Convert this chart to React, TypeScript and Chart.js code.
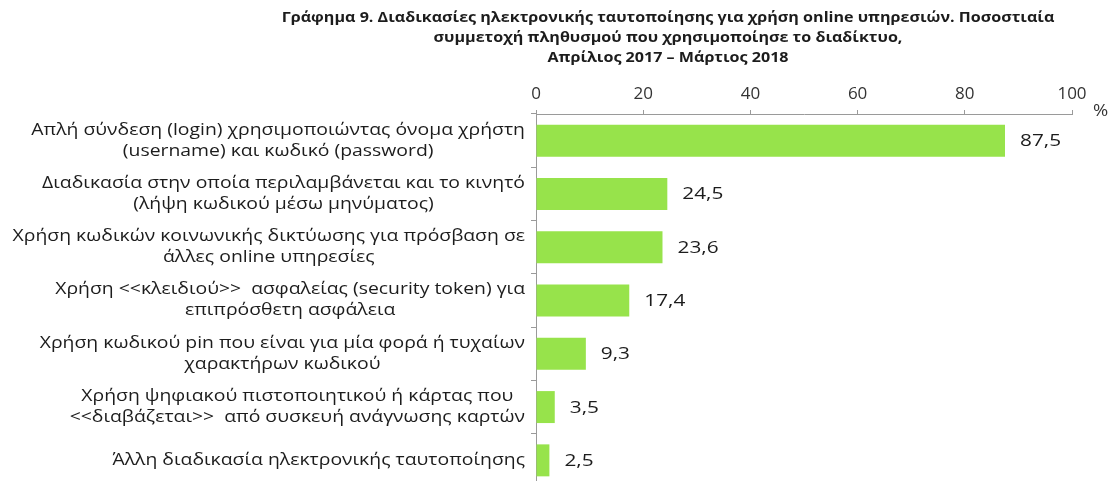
import React, { useEffect, useRef } from "react";
import { Chart, registerables } from "chart.js";

Chart.register(...registerables);

const titleLines = [
  "Γράφημα 9. Διαδικασίες ηλεκτρονικής ταυτοποίησης για χρήση online υπηρεσιών. Ποσοστιαία",
  "συμμετοχή πληθυσμού που χρησιμοποίησε το διαδίκτυο,",
  "Απρίλιος 2017 – Μάρτιος 2018",
];

const categories: string[][] = [
  ["Απλή σύνδεση (login) χρησιμοποιώντας όνομα χρήστη", "(username) και κωδικό (password)"],
  ["Διαδικασία στην οποία περιλαμβάνεται και το κινητό", "(λήψη κωδικού μέσω μηνύματος)"],
  ["Χρήση κωδικών κοινωνικής δικτύωσης για πρόσβαση σε", "άλλες online υπηρεσίες"],
  ["Χρήση <<κλειδιού>>  ασφαλείας (security token) για", "επιπρόσθετη ασφάλεια"],
  ["Χρήση κωδικού pin που είναι για μία φορά ή τυχαίων", "χαρακτήρων κωδικού"],
  ["Χρήση ψηφιακού πιστοποιητικού ή κάρτας που", "<<διαβάζεται>>  από συσκευή ανάγνωσης καρτών"],
  ["Άλλη διαδικασία ηλεκτρονικής ταυτοποίησης"],
];

const values = [87.5, 24.5, 23.6, 17.4, 9.3, 3.5, 2.5];

const axisMin = 0;
const axisMax = 100;
const axisStep = 20;
const unitLabel = "%";

const FONT = "'Open Sans', 'DejaVu Sans', sans-serif";
const TEXT = "#1c1c1c";
const BAR = "#97E34B";
const AXIS = "#9a9a9a";

const fmt = (v: number) => v.toFixed(1).replace(".", ",");

// draw text with a horizontal stretch (reference glyphs are wide)
function stretchText(
  ctx: CanvasRenderingContext2D,
  text: string,
  x: number,
  y: number,
  sx: number
) {
  ctx.save();
  ctx.translate(x, y);
  ctx.scale(sx, 1);
  ctx.fillText(text, 0, 0);
  ctx.restore();
}

const overlay = {
  id: "overlay",
  afterDraw(chart: any) {
    const ctx = chart.ctx as CanvasRenderingContext2D;
    const area = chart.chartArea;
    const y = chart.scales.y;
    const x = chart.scales.x;
    ctx.save();
    // title
    ctx.fillStyle = TEXT;
    ctx.font = `bold 14.5px ${FONT}`;
    ctx.textAlign = "center";
    ctx.textBaseline = "middle";
    const tTops = [18, 38, 58];
    titleLines.forEach((t, i) => stretchText(ctx, t, 668, tTops[i], 1.11));

    // category labels
    const LS = 1.25;
    ctx.font = `15.5px ${FONT}`;
    const right = y.right - 11;
    categories.forEach((lines, i) => {
      const cy = y.getPixelForValue(i);
      const w = Math.max(...lines.map((l) => ctx.measureText(l).width)) * LS;
      const cx = right - w / 2;
      const lh = 21;
      const start = cy - ((lines.length - 1) * lh) / 2;
      lines.forEach((l, j) => stretchText(ctx, l, cx, start + j * lh, LS));
    });

    // value labels
    ctx.font = `16px ${FONT}`;
    ctx.textAlign = "left";
    const meta = chart.getDatasetMeta(0);
    meta.data.forEach((bar: any, i: number) => {
      stretchText(ctx, fmt(values[i]), bar.x + 15, bar.y + 1, 1.3);
    });

    // unit label
    ctx.fillStyle = "#333";
    stretchText(ctx, unitLabel, x.right + 21, area.top - 3, 1.15);
    ctx.restore();
  },
};

export default function App() {
  const ref = useRef<HTMLCanvasElement>(null);
  useEffect(() => {
    if (!ref.current) return;
    const chart = new Chart(ref.current, {
      type: "bar",
      data: {
        labels: categories.map((c) => c.join(" ")),
        datasets: [
          {
            data: values,
            backgroundColor: BAR,
            borderWidth: 0,
            barPercentage: 0.6,
            categoryPercentage: 1,
          },
        ],
      },
      options: {
        indexAxis: "y",
        animation: false,
        responsive: false,
        maintainAspectRatio: false,
        layout: { padding: { left: 0, right: 38, top: 0, bottom: 8 } },
        plugins: {
          legend: { display: false },
          title: { display: false },
          tooltip: { enabled: false },
        },
        scales: {
          x: {
            position: "top",
            min: axisMin,
            max: axisMax,
            ticks: {
              stepSize: axisStep,
              color: "#333",
              font: { family: FONT, size: 17 },
              padding: 6,
            },
            grid: {
              drawOnChartArea: false,
              drawTicks: true,
              tickLength: 4,
              color: AXIS,
            },
            border: { display: true, color: AXIS, width: 1 },
            afterFit: (s: any) => {
              s.height = 114;
            },
          },
          y: {
            ticks: { display: false },
            grid: {
              drawOnChartArea: false,
              drawTicks: true,
              tickLength: 5,
              offset: true,
              color: AXIS,
            },
            border: { display: true, color: AXIS, width: 1 },
            afterFit: (s: any) => {
              s.width = 536;
            },
          },
        },
      },
      plugins: [overlay],
    });
    return () => chart.destroy();
  }, []);
  return (
    <div
      style={{
        position: "fixed",
        left: 0,
        top: 0,
        width: 1110,
        height: 481,
        overflow: "hidden",
        background: "#fff",
      }}
    >
      <canvas ref={ref} width={1110} height={495} style={{ display: "block" }} />
    </div>
  );
}
